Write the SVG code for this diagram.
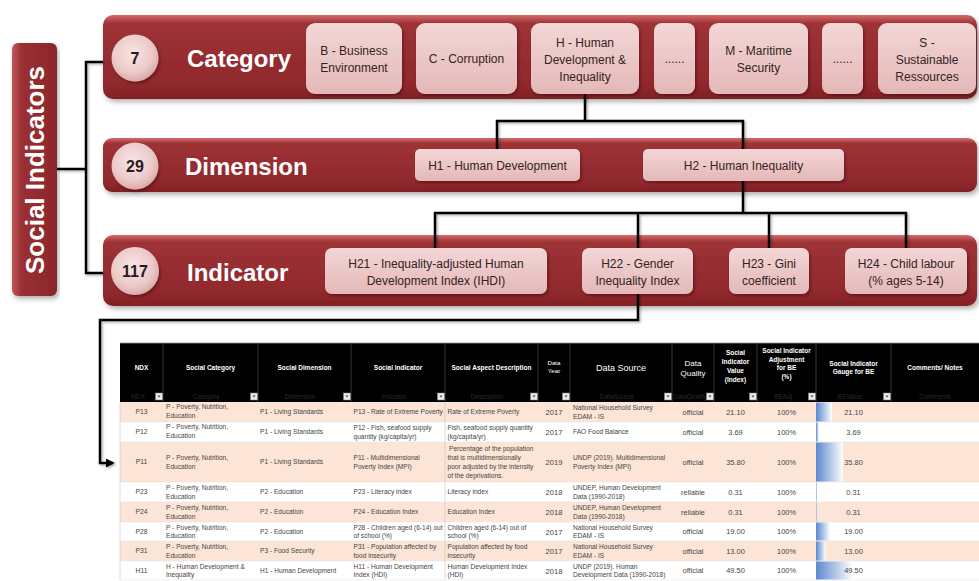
<svg xmlns="http://www.w3.org/2000/svg" width="979" height="581" viewBox="0 0 979 581">
<defs>
<linearGradient id="gBand" x1="0" y1="0" x2="0" y2="1">
<stop offset="0" stop-color="#d46c6c"/>
<stop offset="0.1" stop-color="#9e3236"/>
<stop offset="0.85" stop-color="#8f282c"/>
<stop offset="1" stop-color="#801f24"/>
</linearGradient>
<linearGradient id="gSide" x1="0" y1="0" x2="1" y2="0">
<stop offset="0" stop-color="#c45a5c"/>
<stop offset="0.2" stop-color="#9b3034"/>
<stop offset="1" stop-color="#8a262a"/>
</linearGradient>
<linearGradient id="gBox" x1="0" y1="0" x2="0" y2="1">
<stop offset="0" stop-color="#f3d6d6"/>
<stop offset="1" stop-color="#e4b8b8"/>
</linearGradient>
<radialGradient id="gCirc" cx="0.45" cy="0.4" r="0.6">
<stop offset="0" stop-color="#f8e6e6"/>
<stop offset="0.7" stop-color="#ecc9c9"/>
<stop offset="1" stop-color="#dcaaaa"/>
</radialGradient>
<linearGradient id="gBar" x1="0" y1="0" x2="1" y2="0">
<stop offset="0" stop-color="#5a88cf"/>
<stop offset="1" stop-color="#ffffff"/>
</linearGradient>
<filter id="sh" x="-5%" y="-20%" width="110%" height="150%">
<feDropShadow dx="2" dy="3" stdDeviation="2.5" flood-color="#000" flood-opacity="0.3"/>
</filter>
<filter id="sh2" x="-10%" y="-20%" width="130%" height="150%">
<feDropShadow dx="1.5" dy="2" stdDeviation="1.5" flood-color="#3a0000" flood-opacity="0.45"/>
</filter>
<filter id="shL" x="-10%" y="-10%" width="120%" height="120%">
<feDropShadow dx="1.5" dy="1.5" stdDeviation="1" flood-color="#000" flood-opacity="0.3"/>
</filter>
<marker id="arr" viewBox="0 0 10 10" refX="8" refY="5" markerWidth="3.6" markerHeight="3.6" orient="auto" markerUnits="strokeWidth">
<path d="M0,0 L10,5 L0,10 z" fill="#000"/>
</marker>
<style>
.band{fill:url(#gBand);filter:url(#sh)}
.box{fill:url(#gBox);filter:url(#sh2)}
.circ{fill:url(#gCirc);filter:url(#sh2)}
.bt{font-family:"Liberation Sans",Arial,sans-serif;font-size:12px;fill:#352222;text-anchor:middle}
.title{font-family:"Liberation Sans",Arial,sans-serif;font-size:24px;font-weight:bold;fill:#ffffff}
.num{font-family:"Liberation Sans",Arial,sans-serif;font-size:16px;font-weight:bold;fill:#2a1a1a;text-anchor:middle}
.conn{stroke:#000;stroke-width:2.5;fill:none;stroke-linejoin:miter}
.th{font-family:"Liberation Sans",Arial,sans-serif;font-size:6.5px;font-weight:bold;fill:#ffffff;text-anchor:middle}
.thr{font-family:"Liberation Sans",Arial,sans-serif;fill:#ffffff;text-anchor:middle}
.tf{font-family:"Liberation Sans",Arial,sans-serif;font-size:6.5px;fill:#2a2a2a;text-anchor:middle}
.td{font-family:"Liberation Sans",Arial,sans-serif;font-size:6.6px;fill:#454545}
.tc{font-family:"Liberation Sans",Arial,sans-serif;font-size:6.8px;fill:#454545;text-anchor:middle}
.ty{font-family:"Liberation Sans",Arial,sans-serif;font-size:7.6px;fill:#454545;text-anchor:middle}
.tq{font-family:"Liberation Sans",Arial,sans-serif;font-size:7.4px;fill:#454545;text-anchor:middle}
.peach{fill:#fce4d6}
.white{fill:#ffffff}
.hdiv{stroke:#444;stroke-width:0.8}
.fb{fill:#ececec;stroke:#8a8a8a;stroke-width:0.5}
.fa{fill:#555}
.bar{fill:url(#gBar)}
</style>
</defs>
<rect width="979" height="581" fill="#ffffff"/>

<!-- Bands -->
<g id="band-category"><rect class="band" x="103" y="15" width="874" height="84" rx="10"/></g>
<g id="band-dimension"><rect class="band" x="103" y="138" width="874" height="54" rx="9"/></g>
<g id="band-indicator"><rect class="band" x="103" y="235" width="874" height="71" rx="10"/></g>

<!-- Social Indicators -->
<g id="social-indicators">
<rect x="12" y="43" width="45" height="253" rx="6" fill="url(#gSide)" filter="url(#sh)"/>
<text transform="translate(44,170) rotate(-90)" text-anchor="middle" font-family="Liberation Sans, Arial, sans-serif" font-size="26" font-weight="bold" fill="#ffffff">Social Indicators</text>
</g>

<!-- Connectors -->
<g id="connectors" filter="url(#shL)">
<path class="conn" d="M57,169 H86"/>
<path class="conn" d="M103,62 H86 V273 H103"/>
<path class="conn" d="M585,94 V121"/>
<path class="conn" d="M497,149 V121 H743 V149"/>
<path class="conn" d="M743,181 V213"/>
<path class="conn" d="M435,248 V213 H906 V248"/>
<path class="conn" d="M638,213 V248"/>
<path class="conn" d="M769,213 V248"/>
<path class="conn" d="M638,294 V320 H100 V463 H113" marker-end="url(#arr)"/>
</g>

<!-- Category row -->
<g id="n-cat-count"><circle class="circ" cx="135" cy="58" r="23.5"/><text class="num" x="135" y="63.5">7</text></g>
<g id="n-cat-title"><text class="title" x="187" y="66.5">Category</text></g>
<g id="n-cat-B"><rect class="box" x="306" y="23" width="96" height="71" rx="9"/><text class="bt" x="354" y="54.5">B - Business</text><text class="bt" x="354" y="71.5">Environment</text></g>
<g id="n-cat-C"><rect class="box" x="416" y="23" width="101" height="71" rx="9"/><text class="bt" x="466.5" y="62.5">C - Corruption</text></g>
<g id="n-cat-H"><rect class="box" x="531" y="23" width="108" height="71" rx="9"/><text class="bt" x="585" y="46.5">H - Human</text><text class="bt" x="585" y="63.5">Development &amp;</text><text class="bt" x="585" y="80.5">Inequality</text></g>
<g id="n-cat-dots1"><rect class="box" x="654" y="23" width="41" height="71" rx="8"/><text class="bt" x="674.5" y="63">......</text></g>
<g id="n-cat-M"><rect class="box" x="709" y="23" width="99" height="71" rx="9"/><text class="bt" x="758.5" y="54.5">M - Maritime</text><text class="bt" x="758.5" y="71.5">Security</text></g>
<g id="n-cat-dots2"><rect class="box" x="822" y="23" width="41" height="71" rx="8"/><text class="bt" x="842.5" y="63">......</text></g>
<g id="n-cat-S"><rect class="box" x="878" y="23" width="98" height="71" rx="9"/><text class="bt" x="927" y="46.5">S -</text><text class="bt" x="927" y="63.5">Sustainable</text><text class="bt" x="927" y="80.5">Ressources</text></g>

<!-- Dimension row -->
<g id="n-dim-count"><circle class="circ" cx="135" cy="166" r="23.5"/><text class="num" x="135" y="171.5">29</text></g>
<g id="n-dim-title"><text class="title" x="185" y="174.5">Dimension</text></g>
<g id="n-dim-H1"><rect class="box" x="415" y="149" width="165" height="32" rx="5"/><text class="bt" x="497.5" y="169.5">H1 - Human Development</text></g>
<g id="n-dim-H2"><rect class="box" x="643" y="149" width="201" height="32" rx="5"/><text class="bt" x="743.5" y="169.5">H2 - Human Inequality</text></g>

<!-- Indicator row -->
<g id="n-ind-count"><circle class="circ" cx="135" cy="271" r="24"/><text class="num" x="135" y="276.5">117</text></g>
<g id="n-ind-title"><text class="title" x="187" y="280.5">Indicator</text></g>
<g id="n-ind-H21"><rect class="box" x="325" y="248" width="222" height="46" rx="7"/><text class="bt" x="436" y="267.5">H21 - Inequality-adjusted Human</text><text class="bt" x="436" y="284.5">Development Index (IHDI)</text></g>
<g id="n-ind-H22"><rect class="box" x="582" y="248" width="111" height="46" rx="7"/><text class="bt" x="637.5" y="267.5">H22 - Gender</text><text class="bt" x="637.5" y="284.5">Inequality Index</text></g>
<g id="n-ind-H23"><rect class="box" x="729" y="248" width="80" height="46" rx="7"/><text class="bt" x="769" y="267.5">H23 - Gini</text><text class="bt" x="769" y="284.5">coefficient</text></g>
<g id="n-ind-H24"><rect class="box" x="845" y="248" width="122" height="46" rx="7"/><text class="bt" x="906" y="267.5">H24 - Child labour</text><text class="bt" x="906" y="284.5">(% ages 5-14)</text></g>

<!-- Table -->
<g id="table">
<rect x="120" y="343" width="859" height="59" fill="#000"/>
<line x1="120" y1="343" x2="979" y2="343" stroke="#9a9a9a" stroke-width="0.8"/>
<g class="hdiv">
<line x1="163" y1="344" x2="163" y2="402"/><line x1="258" y1="344" x2="258" y2="402"/><line x1="351" y1="344" x2="351" y2="402"/><line x1="445" y1="344" x2="445" y2="402"/><line x1="538" y1="344" x2="538" y2="402"/><line x1="570" y1="344" x2="570" y2="402"/><line x1="672" y1="344" x2="672" y2="402"/><line x1="714" y1="344" x2="714" y2="402"/><line x1="757" y1="344" x2="757" y2="402"/><line x1="816" y1="344" x2="816" y2="402"/><line x1="891" y1="344" x2="891" y2="402"/>
</g>
<!-- header titles -->
<text class="th" x="141.5" y="370.3">NDX</text>
<text class="th" x="210.5" y="370.3">Social Category</text>
<text class="th" x="304.5" y="370.3">Social Dimension</text>
<text class="th" x="398" y="370.3">Social Indicator</text>
<text class="th" x="491.5" y="370.3">Social Aspect Description</text>
<text class="thr" font-size="6.2" x="554" y="365">Data</text><text class="thr" font-size="6.2" x="554" y="373">Year</text>
<text class="thr" font-size="9" x="621" y="371">Data Source</text>
<text class="thr" font-size="8" x="693" y="366">Data</text><text class="thr" font-size="8" x="693" y="376">Quality</text>
<text class="th" x="735.5" y="355.3">Social</text><text class="th" x="735.5" y="364.3">Indicator</text><text class="th" x="735.5" y="373.3">Value</text><text class="th" x="735.5" y="382.3">(Index)</text>
<text class="th" x="786.5" y="353.3">Social Indicator</text><text class="th" x="786.5" y="361.8">Adjustment</text><text class="th" x="786.5" y="370.3">for BE</text><text class="th" x="786.5" y="379.3">(%)</text>
<text class="th" x="853.5" y="365.8">Social Indicator</text><text class="th" x="853.5" y="374.3">Gauge for BE</text>
<text class="th" x="935" y="370.3">Comments/ Notes</text>
<!-- faint field names -->
<text class="tf" x="138" y="398.5">NDX</text>
<text class="tf" x="206" y="398.5">Category</text>
<text class="tf" x="300" y="398.5">Dimension</text>
<text class="tf" x="394" y="398.5">Indicator</text>
<text class="tf" x="487" y="398.5">Description</text>
<text class="tf" x="617" y="398.5">DataSource</text>
<text class="tf" x="690" y="398.5">DataQuality</text>
<text class="tf" x="783" y="398.5">BEAdj</text>
<text class="tf" x="850" y="398.5">BEValue</text>
<text class="tf" x="935" y="398.5">Comments</text>
<!-- filter buttons -->
<g>
<rect class="fb" x="155.5" y="393" width="7" height="7"/><path class="fa" d="M157.3,395.6 h3.4 l-1.7,2 z"/>
<rect class="fb" x="250.5" y="393" width="7" height="7"/><path class="fa" d="M252.3,395.6 h3.4 l-1.7,2 z"/>
<rect class="fb" x="343.5" y="393" width="7" height="7"/><path class="fa" d="M345.3,395.6 h3.4 l-1.7,2 z"/>
<rect class="fb" x="437.5" y="393" width="7" height="7"/><path class="fa" d="M439.3,395.6 h3.4 l-1.7,2 z"/>
<rect class="fb" x="530.5" y="393" width="7" height="7"/><path class="fa" d="M532.3,395.6 h3.4 l-1.7,2 z"/>
<rect class="fb" x="562.5" y="393" width="7" height="7"/><path class="fa" d="M564.3,395.6 h3.4 l-1.7,2 z"/>
<rect class="fb" x="664.5" y="393" width="7" height="7"/><path class="fa" d="M666.3,395.6 h3.4 l-1.7,2 z"/>
<rect class="fb" x="706.5" y="393" width="7" height="7"/><path class="fa" d="M708.3,395.6 h3.4 l-1.7,2 z"/>
<rect class="fb" x="749.5" y="393" width="7" height="7"/><path class="fa" d="M751.3,395.6 h3.4 l-1.7,2 z"/>
<rect class="fb" x="808.5" y="393" width="7" height="7"/><path class="fa" d="M810.3,395.6 h3.4 l-1.7,2 z"/>
<rect class="fb" x="883.5" y="393" width="7" height="7"/><path class="fa" d="M885.3,395.6 h3.4 l-1.7,2 z"/>
</g>
<!-- row backgrounds -->
<rect class="peach" x="120" y="402" width="859" height="20"/>
<rect class="white" x="120" y="422" width="859" height="20"/>
<rect class="peach" x="120" y="442" width="859" height="40"/>
<rect class="white" x="120" y="482" width="859" height="20"/>
<rect class="peach" x="120" y="502" width="859" height="20"/>
<rect class="white" x="120" y="522" width="859" height="19"/>
<rect class="peach" x="120" y="541" width="859" height="20"/>
<rect class="white" x="120" y="561" width="859" height="19"/>
<g stroke="#e6e6e6" stroke-width="0.6">
<line x1="120" y1="422" x2="979" y2="422"/><line x1="120" y1="442" x2="979" y2="442"/><line x1="120" y1="482" x2="979" y2="482"/><line x1="120" y1="502" x2="979" y2="502"/><line x1="120" y1="522" x2="979" y2="522"/><line x1="120" y1="541" x2="979" y2="541"/><line x1="120" y1="561" x2="979" y2="561"/><line x1="120" y1="580" x2="979" y2="580"/>
</g>
<line x1="120" y1="402" x2="120" y2="580" stroke="#d0d0d0" stroke-width="0.8"/>
<line x1="445" y1="402" x2="445" y2="580" stroke="#c8c8c8" stroke-width="0.7"/>
<!-- gauge bars -->
<rect class="bar" x="816" y="402.5" width="16" height="19"/>
<rect class="bar" x="816" y="422.5" width="2.8" height="19"/>
<rect class="bar" x="816" y="442.5" width="27" height="39"/>
<rect class="bar" x="816" y="482.5" width="1" height="19"/>
<rect class="bar" x="816" y="502.5" width="1" height="19"/>
<rect class="bar" x="816" y="522.5" width="14.3" height="18"/>
<rect class="bar" x="816" y="541.5" width="9.8" height="19"/>
<rect class="bar" x="816" y="561.5" width="37" height="18"/>

<!-- Row 1 -->
<text class="tc" x="141.5" y="414.4">P13</text>
<text class="td" x="166" y="408.6">P - Poverty, Nutrition,</text><text class="td" x="166" y="417.6">Education</text>
<text class="td" x="260" y="414.4">P1 - Living Standards</text>
<text class="td" x="353.5" y="414.4">P13 - Rate of Extreme Poverty</text>
<text class="td" x="447.5" y="414.4">Rate of Extreme Poverty</text>
<text class="ty" x="554" y="414.8">2017</text>
<text class="td" x="573" y="410">National Household Survey</text><text class="td" x="573" y="418.6">EDAM - IS</text>
<text class="tq" x="693" y="414.6">official</text>
<text class="tq" x="735.5" y="414.6">21.10</text>
<text class="tq" x="786.5" y="414.6">100%</text>
<text class="tq" x="853.5" y="414.6">21.10</text>
<!-- Row 2 -->
<text class="tc" x="141.5" y="434.4">P12</text>
<text class="td" x="166" y="429.1">P - Poverty, Nutrition,</text><text class="td" x="166" y="437.6">Education</text>
<text class="td" x="260" y="434.4">P1 - Living Standards</text>
<text class="td" x="353.5" y="430.1">P12 - Fish, seafood supply</text><text class="td" x="353.5" y="438.6">quantity (kg/capita/yr)</text>
<text class="td" x="447.5" y="430.1">Fish, seafood supply quantity</text><text class="td" x="447.5" y="438.6">(kg/capita/yr)</text>
<text class="ty" x="554" y="435">2017</text>
<text class="td" x="573" y="434.4">FAO Food Balance</text>
<text class="tq" x="693" y="434.6">official</text>
<text class="tq" x="735.5" y="434.6">3.69</text>
<text class="tq" x="786.5" y="434.6">100%</text>
<text class="tq" x="853.5" y="434.6">3.69</text>
<!-- Row 3 -->
<text class="tc" x="141.5" y="464.4">P11</text>
<text class="td" x="166" y="460.1">P - Poverty, Nutrition,</text><text class="td" x="166" y="468.6">Education</text>
<text class="td" x="260" y="464.4">P1 - Living Standards</text>
<text class="td" x="353.5" y="460.1">P11 - Multidimensional</text><text class="td" x="353.5" y="468.6">Poverty Index (MPI)</text>
<text class="td" x="449" y="451.2">Percentage of the population</text><text class="td" x="447.5" y="460">that is multidimensionally</text><text class="td" x="447.5" y="468.8">poor adjusted by the intensity</text><text class="td" x="447.5" y="477.6">of the deprivations.</text>
<text class="ty" x="554" y="465">2019</text>
<text class="td" x="573" y="460.1">UNDP (2019).  Multidimensional</text><text class="td" x="573" y="468.6">Poverty Index (MPI)</text>
<text class="tq" x="693" y="464.6">official</text>
<text class="tq" x="735.5" y="464.6">35.80</text>
<text class="tq" x="786.5" y="464.6">100%</text>
<text class="tq" x="853.5" y="464.6">35.80</text>
<!-- Row 4 -->
<text class="tc" x="141.5" y="494.4">P23</text>
<text class="td" x="166" y="490.1">P - Poverty, Nutrition,</text><text class="td" x="166" y="498.6">Education</text>
<text class="td" x="260" y="494.4">P2 - Education</text>
<text class="td" x="353.5" y="494.4">P23 - Literacy index</text>
<text class="td" x="447.5" y="494.4">Literacy index</text>
<text class="ty" x="554" y="495">2018</text>
<text class="td" x="573" y="490.1">UNDEP, Human Development</text><text class="td" x="573" y="498.6">Data (1990-2018)</text>
<text class="tq" x="693" y="494.6">reliable</text>
<text class="tq" x="735.5" y="494.6">0.31</text>
<text class="tq" x="786.5" y="494.6">100%</text>
<text class="tq" x="853.5" y="494.6">0.31</text>
<!-- Row 5 -->
<text class="tc" x="141.5" y="514.4">P24</text>
<text class="td" x="166" y="510.1">P - Poverty, Nutrition,</text><text class="td" x="166" y="518.6">Education</text>
<text class="td" x="260" y="514.4">P2 - Education</text>
<text class="td" x="353.5" y="514.4">P24 - Education Index</text>
<text class="td" x="447.5" y="514.4">Education Index</text>
<text class="ty" x="554" y="515">2018</text>
<text class="td" x="573" y="510.1">UNDEP, Human Development</text><text class="td" x="573" y="518.6">Data (1990-2018)</text>
<text class="tq" x="693" y="514.6">reliable</text>
<text class="tq" x="735.5" y="514.6">0.31</text>
<text class="tq" x="786.5" y="514.6">100%</text>
<text class="tq" x="853.5" y="514.6">0.31</text>
<!-- Row 6 -->
<text class="tc" x="141.5" y="533.9">P28</text>
<text class="td" x="166" y="529.6">P - Poverty, Nutrition,</text><text class="td" x="166" y="538.1">Education</text>
<text class="td" x="260" y="533.9">P2 - Education</text>
<text class="td" x="353.5" y="529.6">P28 - Children aged (6-14) out</text><text class="td" x="353.5" y="538.1">of school (%)</text>
<text class="td" x="447.5" y="529.6">Children aged (6-14) out of</text><text class="td" x="447.5" y="538.1">school (%)</text>
<text class="ty" x="554" y="534.5">2017</text>
<text class="td" x="573" y="529.6">National Household Survey</text><text class="td" x="573" y="538.1">EDAM - IS</text>
<text class="tq" x="693" y="534.1">official</text>
<text class="tq" x="735.5" y="534.1">19.00</text>
<text class="tq" x="786.5" y="534.1">100%</text>
<text class="tq" x="853.5" y="534.1">19.00</text>
<!-- Row 7 -->
<text class="tc" x="141.5" y="553.4">P31</text>
<text class="td" x="166" y="549.1">P - Poverty, Nutrition,</text><text class="td" x="166" y="557.6">Education</text>
<text class="td" x="260" y="553.4">P3 - Food Security</text>
<text class="td" x="353.5" y="549.1">P31 - Population affected by</text><text class="td" x="353.5" y="557.6">food insecurity</text>
<text class="td" x="447.5" y="549.1">Population affected by food</text><text class="td" x="447.5" y="557.6">insecurity</text>
<text class="ty" x="554" y="554">2017</text>
<text class="td" x="573" y="549.1">National Household Survey</text><text class="td" x="573" y="557.6">EDAM - IS</text>
<text class="tq" x="693" y="553.6">official</text>
<text class="tq" x="735.5" y="553.6">13.00</text>
<text class="tq" x="786.5" y="553.6">100%</text>
<text class="tq" x="853.5" y="553.6">13.00</text>
<!-- Row 8 -->
<text class="tc" x="141.5" y="572.9">H11</text>
<text class="td" x="166" y="568.6">H - Human Development &amp;</text><text class="td" x="166" y="577.1">Inequality</text>
<text class="td" x="260" y="572.9">H1 - Human Development</text>
<text class="td" x="353.5" y="568.6">H11 - Human Development</text><text class="td" x="353.5" y="577.1">Index (HDI)</text>
<text class="td" x="447.5" y="568.6">Human Development Index</text><text class="td" x="447.5" y="577.1">(HDI)</text>
<text class="ty" x="554" y="573.5">2018</text>
<text class="td" x="573" y="568.6">UNDP (2019). Human</text><text class="td" x="573" y="577.1">Development Data (1990-2018)</text>
<text class="tq" x="693" y="573.1">official</text>
<text class="tq" x="735.5" y="573.1">49.50</text>
<text class="tq" x="786.5" y="573.1">100%</text>
<text class="tq" x="853.5" y="573.1">49.50</text>
</g>
</svg>
